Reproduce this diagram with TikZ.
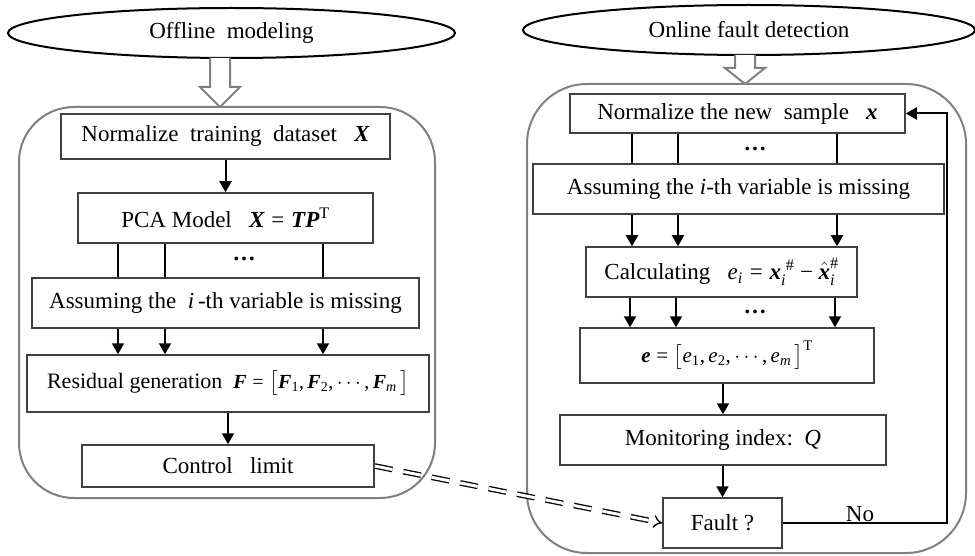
\documentclass[tikz,border=0pt]{standalone}
\usepackage{amsmath}
\usepackage{fontspec}
\setmainfont{Liberation Serif}
\usetikzlibrary{shapes.geometric,arrows.meta}

% bold italic vector / italic symbol / upright text inside math
\newcommand{\bvec}[1]{\text{\bfseries\itshape #1}}
\newcommand{\ivar}[1]{\text{\itshape #1}}
\newcommand{\rtxt}[1]{\text{#1}}
\newcommand{\meq}{\mathrel{\text{=}}}
\newcommand{\mminus}{\mathbin{\text{−}}}
\newcommand{\mcomma}{\mathpunct{\text{,}}}

\begin{document}
\begin{tikzpicture}[x=1pt,y=-1pt,
  every node/.style={font=\fontsize{23}{26}\selectfont, text=black},
  stepbox/.style={draw=black!75, line width=1.5pt, rectangle, inner sep=0pt},
  panel/.style={draw=black!50, line width=2pt},
  phase/.style={draw=black, line width=2pt, ellipse, inner sep=0pt, minimum height=50pt},
  hollow/.style={draw=black!50, line width=2pt, fill=white, line join=miter},
  flow/.style={draw=black, line width=2pt, -{Triangle[length=11pt,width=12pt]}},
  link/.style={draw=black, line width=2pt},
  dotsnode/.style={inner sep=0pt, font=\fontsize{23}{26}\selectfont\bfseries},
]
\useasboundingbox (0,0) rectangle (975,556);

% ---------- panels ----------
\draw[panel, rounded corners=55pt] (19,107) rectangle (435,498);
\draw[panel, rounded corners=60pt] (527,84) rectangle (966,553);

% ---------- phase titles ----------
\node[phase, minimum width=447pt] (offl) at (231.5,33) {Offline\ \ modeling};
\node[phase, minimum width=452pt] (onl) at (749,30) {Online\ fault\ detection};

% ---------- hollow arrows into the panels ----------
\draw[hollow] (210,58) -- (210,87) -- (200,87) -- (220,107) -- (240,87) -- (230,87) -- (230,58);
\draw[hollow] (735,55) -- (735,68) -- (725,68) -- (745,84) -- (765,68) -- (755,68) -- (755,55);

% ---------- offline steps ----------
\node[stepbox, minimum width=329pt, minimum height=45pt] (norm) at (225.5,136.5)
  {Normalize\ \ training\ \ dataset\ \ \ $\bvec{X}$};
\node[stepbox, minimum width=295pt, minimum height=50pt] (pca) at (225.5,218)
  {PCA Model\ \ \ $\bvec{X} \meq \bvec{TP}^{\rtxt{T}}$};
\node[stepbox, minimum width=387pt, minimum height=50pt] (miss) at (225.5,303)
  {Assuming the\ \ \textit{i}\,-th variable is missing};
\node[stepbox, minimum width=402pt, minimum height=57pt] (resg) at (228,383.5)
  {\fontsize{22}{24}\selectfont Residual\ generation\ \ {\fontsize{20}{24}\selectfont
   $\bvec{F} \meq \bigl[\bvec{F}_{\rtxt{1}}\mcomma \bvec{F}_{\rtxt{2}}\mcomma \cdots\mcomma \bvec{F}_{\ivar{m}}\,\bigr]$}};
\node[stepbox, minimum width=292pt, minimum height=42pt] (clim) at (228,466)
  {Control\ \ \ limit};

\node[dotsnode] (dl) at (244,259) {…};

\draw[flow] (norm.south -| pca.north) -- (pca.north);
\foreach \dx in {-107.5,-60.5,97.5} {
  \draw[link] ([xshift=\dx pt]pca.south) -- ([xshift=\dx pt]pca.south |- miss.north);
  \draw[flow] ([xshift=\dx pt]miss.south) -- ([xshift=\dx pt]miss.south |- resg.north);
}
\draw[flow] (resg.south -| clim.north) -- (clim.north);

% ---------- online steps ----------
\node[stepbox, minimum width=335pt, minimum height=39pt] (nnew) at (737.5,113.5)
  {Normalize the\ new\ \ sample\ \ \ $\bvec{x}$};
\node[stepbox, minimum width=411pt, minimum height=50pt] (omiss) at (738.5,189)
  {Assuming the \textit{i}-th variable is missing};
\node[stepbox, minimum width=271pt, minimum height=50pt] (calc) at (721.5,272)
  {Calculating\ \ \ $\ivar{e}_{\ivar{i}} \meq \bvec{x}_{\ivar{i}}^{\;\#} \mminus \hat{\bvec{x}}_{\ivar{i}}^{\#}$};
\node[stepbox, minimum width=294pt, minimum height=55pt] (evec) at (727,355.5)
  {\raisebox{-6pt}{\fontsize{21}{24}\selectfont
   $\bvec{e} \meq \bigl[\ivar{e}_{\rtxt{1}}\mcomma \ivar{e}_{\rtxt{2}}\mcomma \cdots\mcomma \ivar{e}_{\ivar{m}}\,\bigr]^{\rtxt{T}}$}};
\node[stepbox, minimum width=326pt, minimum height=50pt] (moni) at (723,440)
  {Monitoring index:\ \ \textit{Q}};
\node[stepbox, minimum width=119pt, minimum height=50pt] (fault) at (722.5,523)
  {Fault ?};

\node[dotsnode] (dr1) at (755,149) {…};
\node[dotsnode] (dr2) at (755,312) {…};

\foreach \dx in {-105.5,-59.5,99.5} {
  \draw[link] ([xshift=\dx pt]nnew.south) -- ([xshift=\dx pt]nnew.south |- omiss.north);
}
\foreach \xx in {632,678,837} {
  \draw[flow] (\xx,214) coordinate (a) (omiss.south -| a) -- (calc.north -| a);
}
\foreach \xx in {630,676,835} {
  \draw[flow] (\xx,297) coordinate (a) (calc.south -| a) -- (evec.north -| a);
}
\draw[flow] (evec.south -| moni.north) -- (moni.north);
\draw[flow] (moni.south -| fault.north) -- (fault.north);

% feedback loop when no fault is found
\coordinate (loopx) at (947,0);
\draw[flow] (fault.east) -- (fault.east -| loopx) |- (nnew.east);
\node[above, inner sep=1pt] (nolab) at (860,523) {No};

% control limit passed to the online decision
\draw[draw=black, line width=1.3pt, double distance=3pt, dash pattern=on 18pt off 11pt,
      -{Implies[length=14pt]}] (clim.east) -- (fault.west);
\end{tikzpicture}
\end{document}
